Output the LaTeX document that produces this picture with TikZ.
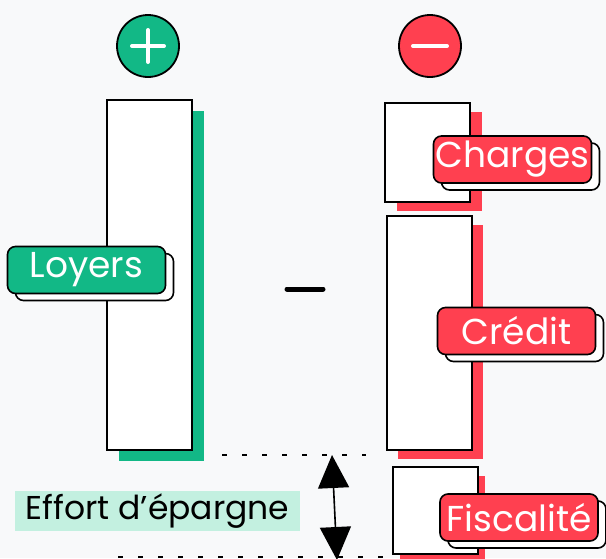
\documentclass[tikz,border=0pt]{standalone}
\usepackage{fontspec}
\setmainfont{Poppins}
\usepackage{tikz}
\usetikzlibrary{arrows.meta,shadows}
\definecolor{bggray}{HTML}{F8F9FA}
\definecolor{plusgreen}{HTML}{12B886}
\definecolor{minusred}{HTML}{FF4050}
\definecolor{effortbg}{HTML}{C3F0E0}

\begin{document}
\begin{tikzpicture}[x=1pt,y=-1pt,
    bar/.style={draw=black,line width=1.6pt,fill=white,inner sep=0pt,minimum width=85pt},
    greenbar/.style={bar,copy shadow={shadow xshift=12pt,shadow yshift=-11pt,fill=plusgreen,draw=none}},
    redbar/.style={bar,copy shadow={shadow xshift=#1,shadow yshift=-9pt,fill=minusred,draw=none}},
    tag/.style={draw=black,line width=1.6pt,rounded corners=8pt,text=white,inner sep=0pt,
      minimum width=158pt,minimum height=47pt,font=\fontsize{36}{40}\selectfont,
      copy shadow={shadow xshift=8pt,shadow yshift=-7pt,fill=white,draw=black}},
    sign/.style={circle,draw=black,line width=1.8pt,minimum size=62pt,inner sep=0pt},
    signbar/.style={white,line width=4pt,line cap=round},
    dots/.style={line width=2.2pt,dash pattern=on 5pt off 15pt}]
  \fill[bggray] (0,0) rectangle (606,558);
  \useasboundingbox (0,0) rectangle (606,558);

  \node[sign,fill=plusgreen] (plus) at (148,46) {};
  \node[sign,fill=minusred] (minus) at (430,46) {};
  \draw[signbar] ([xshift=-16pt]plus.center) -- ([xshift=16pt]plus.center);
  \draw[signbar] ([yshift=-16pt]plus.center) -- ([yshift=16pt]plus.center);
  \draw[signbar] ([xshift=-17pt]minus.center) -- ([xshift=17pt]minus.center);

  \node[greenbar,minimum height=350pt] (loyersbar) at (149.5,275) {};
  \node[redbar=12pt,minimum height=99pt] (chargesbar) at (427.5,152.5) {};
  \node[redbar=11pt,minimum height=234pt] (creditbar) at (429.5,333) {};
  \node[redbar=7pt,minimum height=87pt] (fiscalbar) at (435.5,510.5) {};

  \node[tag,fill=plusgreen] (loyers) at (86.5,270) {Loyers};
  \node[tag,fill=minusred] (charges) at (512.5,159.5) {Charges};
  \node[tag,fill=minusred] (credit) at (516.5,331) {Crédit};
  \node[tag,fill=minusred] (fiscalite) at (519,517.5) {Fiscalité};

  \draw[line width=5pt,line cap=round] (287,289) -- (323,289);

  \coordinate (hightop) at (222,455);
  \coordinate (highend) at (366,455);
  \coordinate (lowtop) at (118,557);
  \coordinate (lowend) at (385,557);
  \draw[dots] (hightop) -- (highend);
  \draw[dots] (lowtop) -- (lowend);

  \node[fill=effortbg,minimum width=285pt,minimum height=40pt,inner sep=0pt,
    font=\fontsize{33}{36}\selectfont] (effort) at (157.5,511) {Effort d'épargne};

  \coordinate (gaptop) at (332,455);
  \coordinate (gapend) at (337,560);
  \draw[line width=1.6pt,{Triangle[width=31pt,length=33pt]}-{Triangle[width=31pt,length=33pt]}] (gaptop) -- (gapend);
\end{tikzpicture}
\end{document}
